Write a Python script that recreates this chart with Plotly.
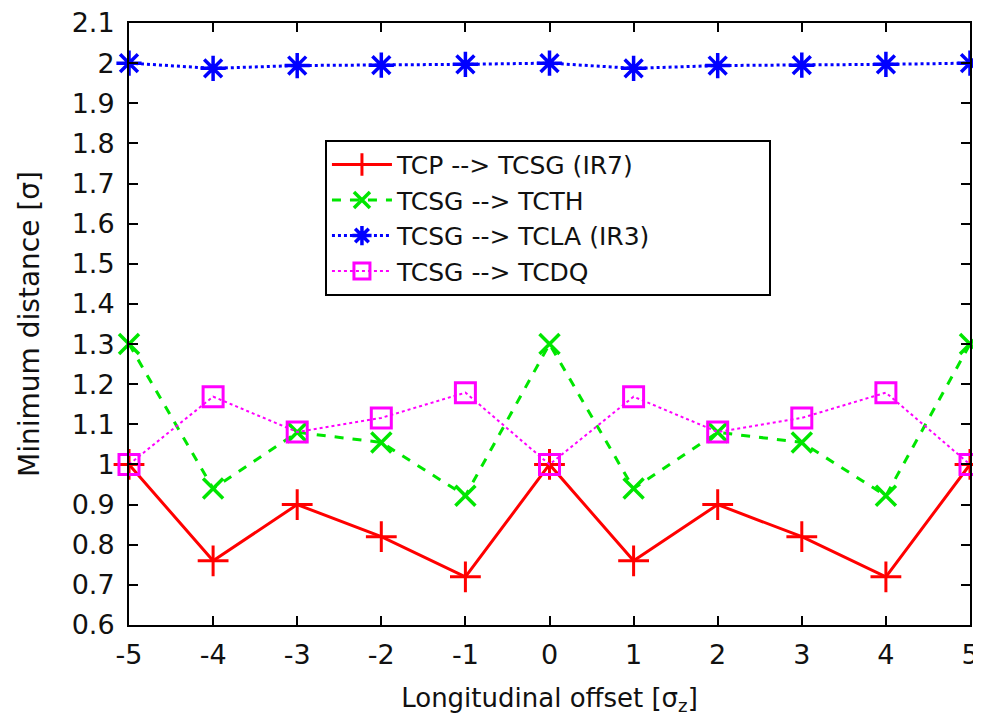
import plotly.graph_objects as go

offsets = [-5, -4, -3, -2, -1, 0, 1, 2, 3, 4, 5]
tcp_tcsg_ir7 = [1.0, 0.76, 0.90, 0.82, 0.72, 1.0, 0.76, 0.90, 0.82, 0.72, 1.0]
tcsg_tcth = [1.30, 0.94, 1.08, 1.055, 0.922, 1.30, 0.94, 1.08, 1.055, 0.922, 1.30]
tcsg_tcla_ir3 = [2.0, 1.987, 1.994, 1.995, 1.997, 2.0, 1.987, 1.994, 1.995, 1.997, 2.0]
tcsg_tcdq = [1.0, 1.169, 1.081, 1.116, 1.179, 1.0, 1.169, 1.081, 1.116, 1.179, 1.0]

names = ["TCP --> TCSG (IR7)", "TCSG --> TCTH", "TCSG --> TCLA (IR3)", "TCSG --> TCDQ"]

y_tickvals = [0.6, 0.7, 0.8, 0.9, 1.0, 1.1, 1.2, 1.3, 1.4, 1.5, 1.6, 1.7, 1.8, 1.9, 2.0, 2.1]
y_ticktext = ["0.6", "0.7", "0.8", "0.9", "1", "1.1", "1.2", "1.3", "1.4", "1.5",
              "1.6", "1.7", "1.8", "1.9", "2", "2.1"]
x_tickvals = offsets
x_ticktext = [str(v) for v in offsets]

FONT = "DejaVu Sans, Liberation Sans, Arial, sans-serif"

fig = go.Figure()

styles = [
    dict(color="#ff0000", dash="solid", width=3, symbol="cross-thin", size=22, lw=3),
    dict(color="#00e600", dash="dash", width=3, symbol="x-thin", size=20, lw=3.5),
    dict(color="#0000ff", dash="dot", width=3, symbol="asterisk", size=21, lw=3.5),
    dict(color="#ff00ff", dash="dot", width=2, symbol="square-open", size=20, lw=3),
]
series = [tcp_tcsg_ir7, tcsg_tcth, tcsg_tcla_ir3, tcsg_tcdq]

for i, (name, ys, st) in enumerate(zip(names, series, styles)):
    fig.add_trace(go.Scatter(
        x=offsets, y=ys, name=name, mode="lines+markers",
        line=dict(color=st["color"], dash=st["dash"], width=st["width"]),
        marker=dict(symbol=st["symbol"], size=st["size"], color=st["color"],
                    line=dict(color=st["color"], width=st["lw"])),
        cliponaxis=False,
    ))

axis_common = dict(
    showline=True, linecolor="black", linewidth=2, mirror="ticks",
    ticks="inside", ticklen=9, tickwidth=2, tickcolor="black",
    showgrid=False, zeroline=False, ticklabeloverflow="allow",
    automargin=False,
    tickfont=dict(family=FONT, size=27, color="#111111"),
)

fig.update_layout(
    width=981, height=720,
    paper_bgcolor="white", plot_bgcolor="white",
    margin=dict(l=121, r=19, t=15, b=103),
    font=dict(family=FONT, color="#111111"),
    xaxis=dict(range=[-5, 5], tickvals=x_tickvals, ticktext=x_ticktext,
               ticklabelstandoff=5,
               title=dict(text="Longitudinal offset [σ<sub>z</sub>]",
                          font=dict(family=FONT, size=26), standoff=19),
               **axis_common),
    yaxis=dict(range=[0.6, 2.1], tickvals=y_tickvals, ticktext=y_ticktext,
               ticklabelstandoff=7,
               title=dict(text="Minimum distance [σ]",
                          font=dict(family=FONT, size=28), standoff=24),
               **axis_common),
    legend=dict(
        x=0.233, y=0.806, xanchor="left", yanchor="top",
        orientation="h", entrywidth=367, entrywidthmode="pixels",
        bgcolor="white", bordercolor="black", borderwidth=2,
        font=dict(family=FONT, size=25, color="#111111"),
        itemwidth=60,
    ),
    showlegend=True,
)

fig.write_html("out.html")
